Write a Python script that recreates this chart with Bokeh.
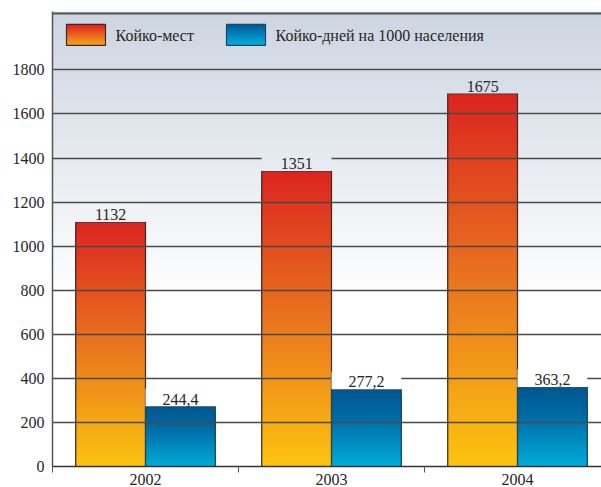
import numpy as np
from bokeh.plotting import figure
from bokeh.models import Range1d, FixedTicker, ColumnDataSource
from bokeh.core.properties import value
from bokeh.embed import file_html
from bokeh.resources import INLINE

# ---------------- data ----------------
years = ["2002", "2003", "2004"]
series_names = ["Койко-мест", "Койко-дней на 1000 населения"]
beds = [1109, 1340, 1692]            # bar heights as drawn
bed_days = [272, 350, 360]           # bar heights as drawn
beds_labels = ["1132", "1351", "1675"]
bed_days_labels = ["244,4", "277,2", "363,2"]
y_ticks = [0, 200, 400, 600, 800, 1000, 1200, 1400, 1600, 1800]

# ---------------- geometry / style ----------------
W, H = 601, 487
LEFT, TOP = 52, 11
BOTTOM_PX = 467
CAT_PX = 186.0
X_END = (W - LEFT) / CAT_PX
Y_END = 2065.0
BAR_W = 0.375
FONT_NAME = "Liberation Serif"
FONT = value(FONT_NAME)
TXT = "#262626"

RED_STOPS = [(0.0, (220, 36, 32)), (0.5, (233, 116, 31)), (1.0, (252, 196, 15))]
BLUE_STOPS = [(0.0, (0, 86, 143)), (0.35, (0, 106, 163)), (1.0, (0, 172, 217))]
LEG_RED_STOPS = [(0.0, (220, 32, 32)), (1.0, (246, 170, 28))]
LEG_BLUE_STOPS = [(0.0, (0, 88, 150)), (1.0, (0, 176, 224))]
BG_TOP = (205, 213, 225)


def lerp(stops, t):
    for (p0, c0), (p1, c1) in zip(stops[:-1], stops[1:]):
        if t <= p1:
            f = (t - p0) / (p1 - p0) if p1 > p0 else 0
            return "#%02x%02x%02x" % tuple(int(round(a + (b - a) * f)) for a, b in zip(c0, c1))
    return "#%02x%02x%02x" % stops[-1][1]


def bg_color(v):
    t = min(max((v - 750) / (2060 - 750), 0), 1)
    return "#%02x%02x%02x" % tuple(int(round(255 + (c - 255) * t)) for c in BG_TOP)


def stack(x0, x1, bottom, top, stops, n, out):
    # quads from bottom to descending tops: each covers the part below, no seams
    for k in range(n):
        tk = top - (top - bottom) * k / n
        out["left"].append(x0)
        out["right"].append(x1)
        out["bottom"].append(bottom)
        out["top"].append(tk)
        out["color"].append(lerp(stops, (k + 0.5) / n))


def px_x(px):
    return (px - LEFT) / CAT_PX


def px_y(py):
    return (BOTTOM_PX - py) / (BOTTOM_PX - TOP) * Y_END


p = figure(width=W, height=H, x_range=Range1d(0, X_END), y_range=Range1d(0, Y_END),
           output_backend="svg", toolbar_location=None,
           min_border_left=LEFT, min_border_top=TOP, min_border_right=0, min_border_bottom=0)
p.outline_line_color = None
p.background_fill_color = "white"
p.border_fill_color = "white"
p.xgrid.visible = False
p.ygrid.visible = False

# background gradient
bg = dict(left=[], right=[], bottom=[], top=[], color=[])
nbg = 80
for k in range(nbg):
    tk = Y_END - Y_END * k / nbg
    bg["left"].append(0)
    bg["right"].append(X_END)
    bg["bottom"].append(0)
    bg["top"].append(tk)
    bg["color"].append(bg_color(tk - Y_END / nbg / 2))
p.quad(left="left", right="right", bottom="bottom", top="top", fill_color="color",
       line_color=None, source=ColumnDataSource(bg))

# bars
centers = [i + 0.5 for i in range(len(years))]
bars = dict(left=[], right=[], bottom=[], top=[], color=[])
for c, v in zip(centers, beds):
    stack(c - BAR_W, c, 0, v, RED_STOPS, 90, bars)
for c, v in zip(centers, bed_days):
    stack(c, c + BAR_W, 0, v, BLUE_STOPS, 50, bars)
p.quad(left="left", right="right", bottom="bottom", top="top", fill_color="color",
       line_color=None, source=ColumnDataSource(bars))
p.quad(left=[c - BAR_W for c in centers], right=centers, bottom=0, top=beds,
       fill_color=None, line_color="#3a2a26", line_width=1.2)
p.quad(left=centers, right=[c + BAR_W for c in centers], bottom=0, top=bed_days,
       fill_color=None, line_color="#1e4561", line_width=1.2)

# grid lines (over bars)
p.hspan(y=y_ticks[1:], line_color="#4a4a4a", line_width=1.3)
p.hspan(y=[2058], line_color="#555555", line_width=1.8)

# label boxes (interrupt the grid lines)
box_h = 18 * Y_END / (BOTTOM_PX - TOP)
bl, br, bb, bt, bc = [], [], [], [], []
for c, v in zip(centers, beds):
    bl.append(c - BAR_W); br.append(c); bb.append(v + 1); bt.append(v + box_h); bc.append(bg_color(v + box_h / 2))
for c, v in zip(centers, bed_days):
    bl.append(c); br.append(c + BAR_W); bb.append(v + 1); bt.append(v + box_h); bc.append(bg_color(v + box_h / 2))
p.quad(left=bl, right=br, bottom=bb, top=bt, fill_color=bc, line_color=None)

p.text(x=[c - BAR_W / 2 for c in centers], y=beds, text=beds_labels, text_font=FONT,
       text_font_size="16px", text_align="center", text_baseline="bottom", y_offset=-2,
       text_color=TXT)
p.text(x=[c + BAR_W / 2 for c in centers], y=bed_days, text=bed_days_labels, text_font=FONT,
       text_font_size="16px", text_align="center", text_baseline="bottom", y_offset=-2,
       text_color=TXT)

# legend (drawn by hand for gradient swatches)
leg = dict(left=[], right=[], bottom=[], top=[], color=[])
stack(px_x(66), px_x(105), px_y(45), px_y(24), LEG_RED_STOPS, 20, leg)
stack(px_x(226), px_x(265), px_y(45), px_y(24), LEG_BLUE_STOPS, 20, leg)
p.quad(left="left", right="right", bottom="bottom", top="top", fill_color="color",
       line_color=None, source=ColumnDataSource(leg))
p.quad(left=[px_x(66), px_x(226)], right=[px_x(105), px_x(265)],
       bottom=px_y(45), top=px_y(24), fill_color=None,
       line_color=["#3a2a26", "#1e4561"], line_width=1.2)
p.text(x=[px_x(115), px_x(275)], y=px_y(35), text=series_names, text_font=FONT,
       text_font_size="16px", text_align="left", text_baseline="middle", text_color=TXT)

# axes
p.yaxis.ticker = FixedTicker(ticks=y_ticks)
p.yaxis.major_tick_out = 0
p.yaxis.major_tick_in = 0
p.yaxis.minor_tick_line_color = None
p.yaxis.major_label_standoff = 8
p.yaxis.axis_line_color = "#555555"
p.yaxis.axis_line_width = 1.5
p.yaxis.major_label_text_font = FONT_NAME
p.yaxis.major_label_text_font_size = "16px"
p.yaxis.major_label_text_color = TXT

p.xaxis.ticker = FixedTicker(ticks=centers, minor_ticks=[0, 1, 2, 3])
p.xaxis.major_label_overrides = {c: y for c, y in zip(centers, years)}
p.xaxis.major_tick_out = 0
p.xaxis.major_tick_in = 0
p.xaxis.minor_tick_out = 6
p.xaxis.minor_tick_in = 0
p.xaxis.minor_tick_line_color = "#555555"
p.xaxis.major_label_standoff = 1
p.xaxis.axis_line_color = "#333333"
p.xaxis.axis_line_width = 1.5
p.xaxis.major_label_text_font = FONT_NAME
p.xaxis.major_label_text_font_size = "16px"
p.xaxis.major_label_text_color = TXT

open("out.html", "w").write(file_html(p, INLINE))
